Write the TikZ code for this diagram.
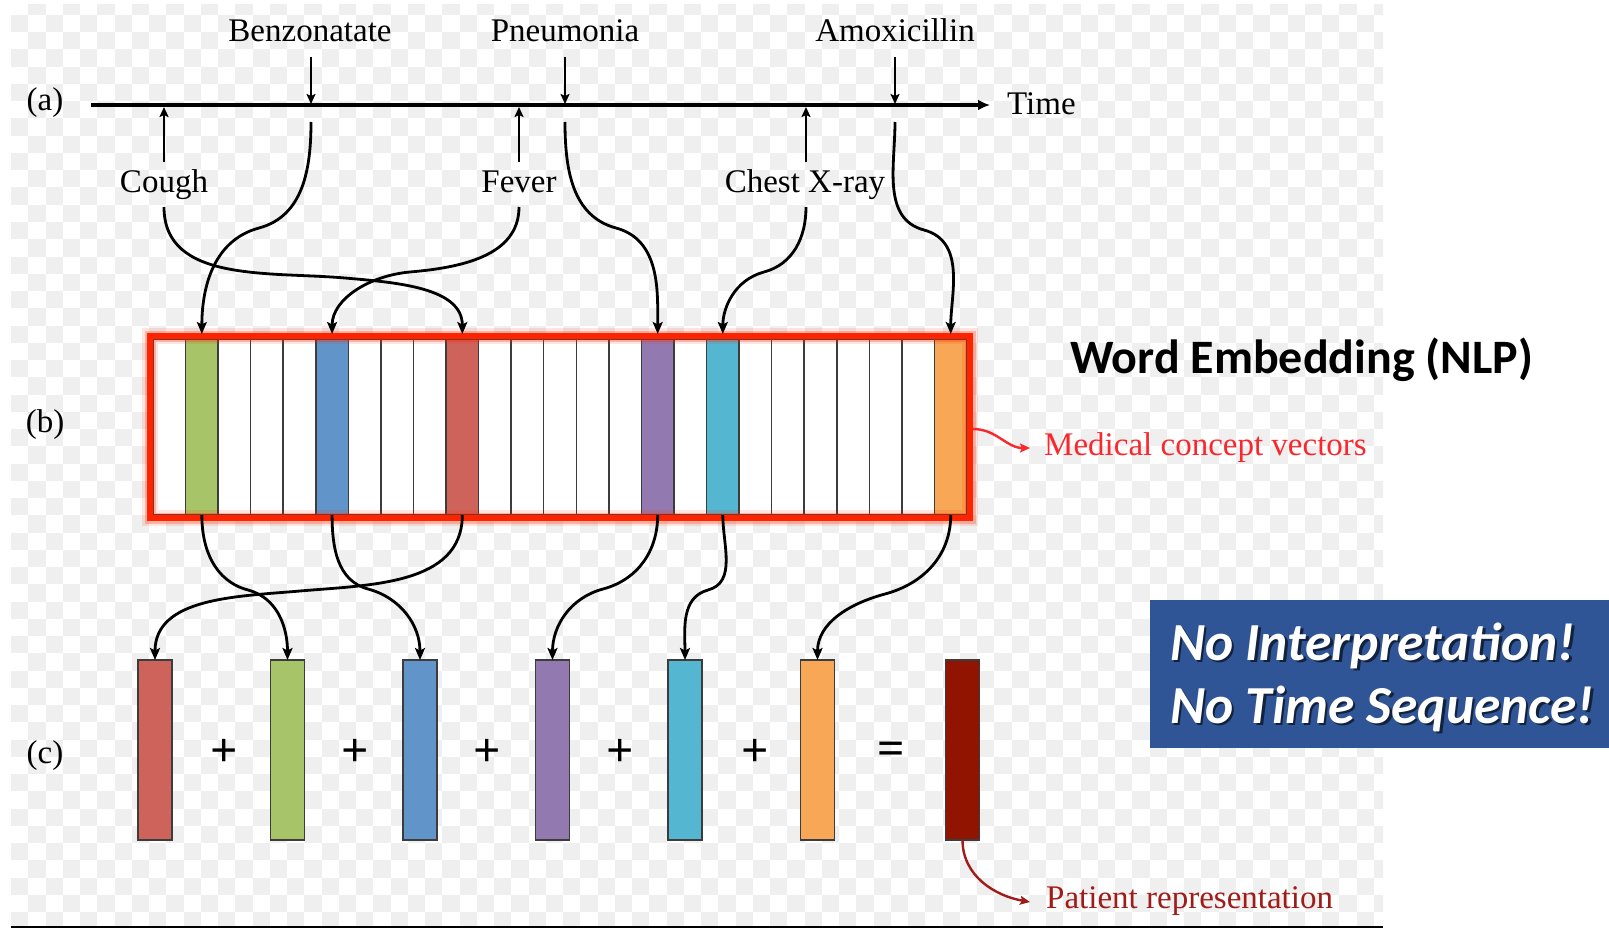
\documentclass[tikz,border=0pt]{standalone}
\usepackage{fontspec}
\setmainfont{Liberation Serif}
\newfontfamily\calibri{Carlito}
\usetikzlibrary{arrows.meta}
\definecolor{checkgray}{RGB}{239,239,239}
\definecolor{cgreen}{RGB}{168,196,104}
\definecolor{cblue}{RGB}{97,148,200}
\definecolor{cred}{RGB}{206,99,92}
\definecolor{cpurple}{RGB}{146,122,176}
\definecolor{ccyan}{RGB}{84,182,208}
\definecolor{corange}{RGB}{247,167,86}
\definecolor{cdark}{RGB}{145,20,0}
\definecolor{framered}{RGB}{255,36,0}
\definecolor{labelred}{RGB}{250,40,45}
\definecolor{patientred}{RGB}{160,28,24}
\definecolor{edgegray}{RGB}{60,60,60}
\definecolor{boxblue}{RGB}{47,85,151}

\begin{document}
\begin{tikzpicture}[x=1pt,y=-1pt,
  serif/.style={font=\fontsize{33}{38}\selectfont, inner sep=0pt, anchor=base},
  tickarrow/.style={line width=2.6pt, -{Stealth[length=10pt,width=9pt,inset=2pt]}},
  link/.style={line width=2.8pt, -{Stealth[length=12pt,width=10pt,inset=2.5pt]}},
  cellbox/.style={draw=edgegray, line width=1.5pt, minimum width=32.56pt, minimum height=176pt, inner sep=0pt, outer sep=0pt},
  barbox/.style={draw=edgegray, line width=1.8pt, minimum width=34pt, minimum height=180pt, inner sep=0pt, outer sep=0pt},
  op/.style={font=\bfseries\fontsize{48}{48}\selectfont, inner sep=0pt},
  banner/.style={font=\calibri\bfseries\itshape\fontsize{53.5}{63}\selectfont, inner sep=0pt, anchor=base west},
]
\useasboundingbox (0,0) rectangle (1609,928);
\fill[white] (0,0) rectangle (1609,928);

% checkered backdrop
\begin{scope}
  \clip (11,5) rectangle (1383,925);
  \foreach \j in {-1,...,52}{
    \pgfmathtruncatemacro\off{mod(\j+2,2)}
    \foreach \i in {0,2,...,78}{
      \fill[checkgray] ({11+17.25*(\i+\off)},{15+17.25*\j}) rectangle ++(17.25,17.25);
    }
  }
\end{scope}
\draw[line width=2.5pt] (11,927) -- (1383,927);

% (a) time line
\node[serif] (la) at (45,111) {(a)};
\node[serif] (lb) at (45,432) {(b)};
\node[serif] (lc) at (45,763) {(c)};

\coordinate (axL) at (91,105);
\coordinate (axR) at (990,105);
\draw[line width=3.5pt, -{Latex[length=12pt,width=11pt]}] (axL) -- (axR);
\node[serif, anchor=base west] (time) at (1007,115) {Time};

\node[serif] (benz) at (310,42) {Benzonatate};
\node[serif] (pneu) at (565,42) {Pneumonia};
\node[serif] (amox) at (895,42) {Amoxicillin};
\node[serif] (cough) at (164,193) {Cough};
\node[serif] (fever) at (519,193) {Fever};
\node[serif] (xray) at (805,193) {Chest X-ray};

% event ticks on the time axis
\foreach \n/\x in {benz/311,pneu/565,amox/895}{
  \coordinate (\n A) at (\x,57);
  \coordinate (\n T) at (\x,104);
  \coordinate (\n B) at (\x,122);
  \draw[tickarrow] (\n A) -- (\n T);
}
\foreach \n/\x in {cough/164,fever/519,xray/806}{
  \coordinate (\n A) at (\x,162);
  \coordinate (\n T) at (\x,107);
  \coordinate (\n B) at (\x,207);
  \draw[tickarrow] (\n A) -- (\n T);
}

% (b) concept vectors
\foreach \k/\c in {0/white,1/cgreen,2/white,3/white,4/white,5/cblue,6/white,7/white,8/white,9/cred,
                   10/white,11/white,12/white,13/white,14/white,15/cpurple,16/white,17/ccyan,
                   18/white,19/white,20/white,21/white,22/white,23/white,24/corange}{
  \node[cellbox, fill=\c] (cell\k) at ({153+32.56*(\k+0.5)},427) {};
}
\draw[framered, opacity=0.12, line width=16pt] (150,336) rectangle (970,518);
\draw[framered, opacity=0.25, line width=11pt] (150,336) rectangle (970,518);
\draw[framered, line width=6pt] (150,336) rectangle (970,518);

% events to their vectors
\coordinate (benzK) at (259,228);
\coordinate (pneuK) at (616,228);
\coordinate (amoxK) at (924,230);
\coordinate (xrayK) at (764,272);
\coordinate (feverK) at (410,272);
\coordinate (coughK) at (345,278);
\draw[link, shorten >=5pt] (coughB) to[out=-90,in=175] (coughK) to[out=-5,in=90] (cell9.north);
\draw[link, shorten >=5pt] (benzB) to[out=-90,in=15] (benzK) to[out=195,in=90] (cell1.north);
\draw[link, shorten >=5pt] (feverB) to[out=-90,in=5] (feverK) to[out=185,in=90] (cell5.north);
\draw[link, shorten >=5pt] (pneuB) to[out=-90,in=165] (pneuK) to[out=-15,in=90] (cell15.north);
\draw[link, shorten >=5pt] (xrayB) to[out=-90,in=15] (xrayK) to[out=195,in=90] (cell17.north);
\draw[link, shorten >=5pt] (amoxB) to[out=-90,in=165] (amoxK) to[out=-15,in=90] (cell24.north);

% (c) patient vector as a sum
\foreach \k/\x/\c in {1/155/cred,2/287.5/cgreen,3/420/cblue,4/552.5/cpurple,5/685/ccyan,6/817.5/corange,7/962.5/cdark}{
  \node[barbox, fill=\c] (bar\k) at (\x,750) {};
}
\foreach \k/\x in {1/224.5,2/355.6,3/487,4/620,5/755}{
  \node[op] (plus\k) at (\x,753) {+};
}
\node[op] (eq) at (891,753) {=};

\coordinate (greenK) at (248,590);
\coordinate (blueK) at (368,589);
\coordinate (redK) at (300,591);
\coordinate (purpleK) at (603,589);
\coordinate (cyanK) at (708,590);
\coordinate (orangeK) at (885,594);
\draw[link] (cell1.south) to[out=-90,in=165] (greenK) to[out=-15,in=90] (bar2.north);
\draw[link] (cell5.south) to[out=-90,in=165] (blueK) to[out=-15,in=90] (bar3.north);
\draw[link] (cell9.south) to[out=-90,in=5] (redK) to[out=185,in=90] (bar1.north);
\draw[link] (cell15.south) to[out=-90,in=15] (purpleK) to[out=195,in=90] (bar4.north);
\draw[link] (cell17.south) to[out=-90,in=15] (cyanK) to[out=195,in=90] (bar5.north);
\draw[link] (cell24.south) to[out=-90,in=15] (orangeK) to[out=195,in=90] (bar6.north);

% annotations
\coordinate (medS) at (973,429);
\coordinate (medT) at (1030,448);
\draw[labelred, line width=2.4pt, -{Stealth[length=10pt,width=9pt,inset=2pt]}] (medS) to[out=0,in=180] (medT);
\node[serif, anchor=base west, text=labelred] (med) at (1044,455) {Medical concept vectors};

\coordinate (patT) at (1030,902);
\draw[patientred, line width=2.4pt, -{Stealth[length=10pt,width=9pt,inset=2pt]}] (bar7.south) to[out=-90,in=170] (patT);
\node[serif, anchor=base west, text=patientred] (pat) at (1046,908) {Patient representation};

\node[anchor=base west, inner sep=0pt, font=\calibri\bfseries\fontsize{48}{52}\selectfont] (we) at (1070,373) {Word Embedding (NLP)};

\fill[boxblue] (1150,600) rectangle (1609,748);
\node[banner, text=black, opacity=0.6] at (1172.5,662.5) {No Interpretation!};
\node[banner, text=black, opacity=0.6] at (1172.5,725.5) {No Time Sequence!};
\node[banner, text=white] (ni1) at (1170,660) {No Interpretation!};
\node[banner, text=white] (ni2) at (1170,723) {No Time Sequence!};
\end{tikzpicture}
\end{document}
